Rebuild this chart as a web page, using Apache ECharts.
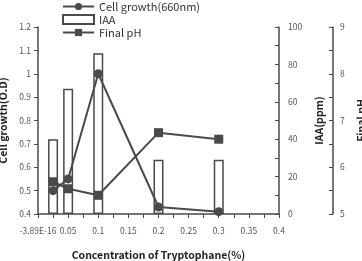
<!DOCTYPE html>
<html>
<head>
<meta charset="utf-8">
<script src="https://cdn.jsdelivr.net/npm/echarts@6/dist/echarts.min.js"></script>
<style>
  html, body { margin: 0; padding: 0; background: #fff; }
  #chart { width: 362px; height: 261px; }
</style>
</head>
<body>
<div id="chart"></div>
<script>
// tryptophane concentration (%)
const conc = [0.025, 0.05, 0.1, 0.2, 0.3]
const cellGrowth = [0.50, 0.55, 1.0, 0.43, 0.41]
const iaa = [40, 67, 86, 29, 29]
const finalPH = [5.69, 5.54, 5.40, 6.74, 6.60]

const axisColor = '#4a4a4a'
const labelColor = '#555'
const font = '"Noto Sans CJK KR", "Noto Sans", sans-serif'

const chart = echarts.init(document.getElementById('chart'))

const pairs = (ys) => conc.map((x, i) => [x, ys[i]])

const option = {
  backgroundColor: '#fff',
  animation: false,
  textStyle: { fontFamily: font },
  grid: { left: 38, right: 83, top: 27, bottom: 47, containLabel: false, outerBoundsMode: 'none' },
  legend: {
    orient: 'vertical',
    left: 62,
    top: 1,
    padding: 0,
    itemWidth: 31,
    itemHeight: 9,
    itemGap: 2,
    textStyle: { fontSize: 11, color: '#333', fontFamily: font },
    data: [
      { name: 'Cell growth(660nm)' },
      { name: 'IAA', icon: 'rect' },
      { name: 'Final pH' }
    ]
  },
  xAxis: {
    type: 'value',
    min: 0,
    max: 0.4,
    interval: 0.05,
    name: 'Concentration of Tryptophane(%)',
    nameLocation: 'middle',
    nameGap: 36,
    nameTextStyle: { fontSize: 10.5, fontWeight: 'bold', color: '#222' },
    axisLine: { lineStyle: { color: axisColor, width: 1.5 } },
    axisTick: { lineStyle: { color: axisColor }, length: 4 },
    minorTick: { show: true, splitNumber: 2, length: 4, lineStyle: { color: axisColor } },
    splitLine: { show: false },
    axisLabel: {
      fontSize: 8.5,
      color: labelColor,
      margin: 13,
      align: 'center',
      showMinLabel: true,
      hideOverlap: false,
      alignMinLabel: 'center',
      formatter: (v) => (v === 0 ? '-3.89E-16' : String(+v.toFixed(2)))
    }
  },
  yAxis: [
    {
      type: 'value',
      min: 0.4,
      max: 1.2,
      interval: 0.1,
      name: 'Cell growth(O.D)',
      nameLocation: 'middle',
      nameRotate: 90,
      nameGap: 25,
      nameTextStyle: { fontSize: 10.5, fontWeight: 'bold', color: '#222' },
      axisLine: { show: true, lineStyle: { color: axisColor, width: 1.5 } },
      axisTick: { show: true, length: 4, lineStyle: { color: axisColor } },
      splitLine: { show: false },
      axisLabel: { fontSize: 8.5, color: labelColor, margin: 7, showMinLabel: true }
    },
    {
      type: 'value',
      position: 'right',
      min: 0,
      max: 100,
      interval: 20,
      name: 'IAA(ppm)',
      nameLocation: 'middle',
      nameRotate: 90,
      nameGap: 35,
      nameTextStyle: { fontSize: 10.5, fontWeight: 'bold', color: '#222' },
      axisLine: { show: true, lineStyle: { color: axisColor, width: 1.5 } },
      axisTick: { show: true, inside: true, length: 4, lineStyle: { color: axisColor } },
      minorTick: { show: true, splitNumber: 2, length: 4, lineStyle: { color: axisColor } },
      splitLine: { show: false },
      axisLabel: { fontSize: 8.5, color: labelColor, margin: 9 }
    },
    {
      type: 'value',
      position: 'right',
      offset: 54,
      min: 5,
      max: 9,
      interval: 1,
      name: 'Final pH',
      nameLocation: 'middle',
      nameRotate: 90,
      nameGap: 20,
      nameTextStyle: { fontSize: 10.5, fontWeight: 'bold', color: '#222' },
      axisLine: { show: true, lineStyle: { color: axisColor, width: 1.5 } },
      axisTick: { show: true, inside: true, length: 4, lineStyle: { color: axisColor } },
      minorTick: { show: true, splitNumber: 2, length: 4, lineStyle: { color: axisColor } },
      splitLine: { show: false },
      axisLabel: { fontSize: 8.5, color: labelColor, margin: 7 }
    }
  ],
  series: [
    {
      name: 'IAA',
      type: 'bar',
      yAxisIndex: 1,
      barWidth: 10,
      data: pairs(iaa),
      itemStyle: { color: '#fff', borderColor: axisColor, borderWidth: 1.5 },
      z: 1
    },
    {
      name: 'Cell growth(660nm)',
      type: 'line',
      yAxisIndex: 0,
      data: pairs(cellGrowth),
      symbol: 'circle',
      symbolSize: 9,
      lineStyle: { color: axisColor, width: 2 },
      itemStyle: { color: axisColor },
      z: 3
    },
    {
      name: 'Final pH',
      type: 'line',
      yAxisIndex: 2,
      data: pairs(finalPH),
      symbol: 'rect',
      symbolSize: 9,
      lineStyle: { color: axisColor, width: 2 },
      itemStyle: { color: axisColor },
      z: 3
    }
  ]
}

chart.setOption(option)
</script>
</body>
</html>
